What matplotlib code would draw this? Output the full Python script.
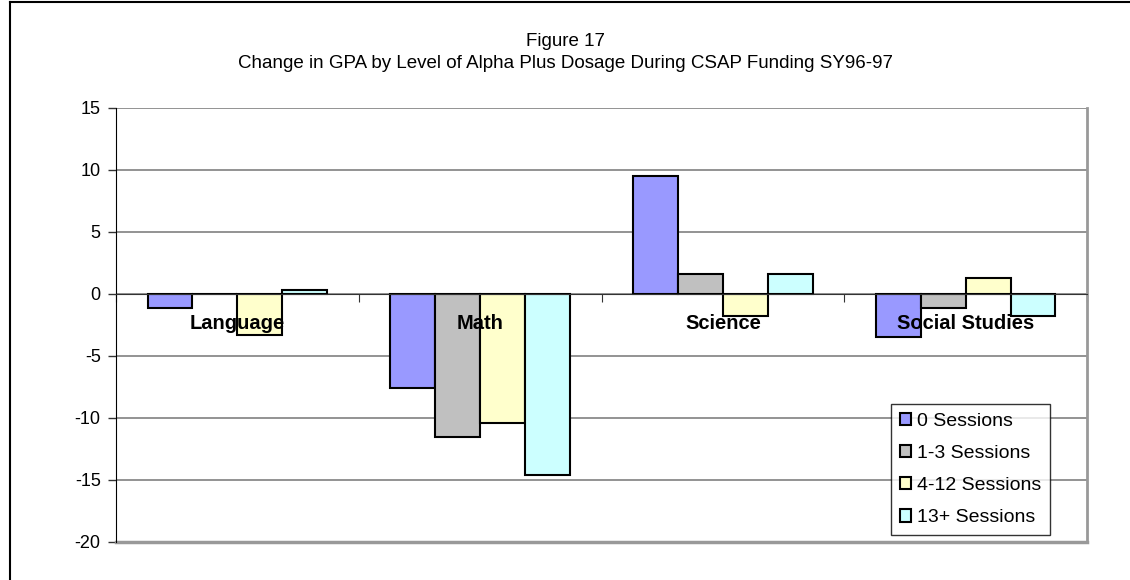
import numpy as np
import matplotlib.pyplot as plt
from matplotlib.ticker import FixedLocator

plt.rcParams['font.family'] = ['Liberation Sans', 'DejaVu Sans']

subjects = ['Language', 'Math', 'Science', 'Social Studies']
sessions = ['0 Sessions', '1-3 Sessions', '4-12 Sessions', '13+ Sessions']
s0 = [-1.1, -7.6, 9.5, -3.5]
s1_3 = [0.0, -11.5, 1.65, -1.1]
s4_12 = [-3.3, -10.4, -1.8, 1.3]
s13 = [0.35, -14.6, 1.65, -1.8]
yticks = [15, 10, 5, 0, -5, -10, -15, -20]

series = [s0, s1_3, s4_12, s13]
colors = ['#9999FF', '#C0C0C0', '#FFFFCC', '#CCFFFF']

fig = plt.figure(figsize=(11.3, 5.8), dpi=100)
ax = fig.add_axes([116 / 1130, 1 - 542 / 580, 971 / 1130, 434 / 580])

x = np.arange(len(subjects))
w = 0.185
for k, (vals, col, lab) in enumerate(zip(series, colors, sessions)):
    ax.bar(x + (k - 1.5) * w, vals, w, color=col, edgecolor='black',
           linewidth=1.5, label=lab, zorder=3)

ax.set_xlim(-0.5, 3.5)
ax.set_ylim(-20, 15)
ax.set_yticks(yticks)
ax.set_yticklabels([str(t) for t in yticks], fontsize=13)
ax.yaxis.grid(True, color='#808080', linewidth=1.2, zorder=0)
ax.tick_params(axis='y', direction='out', length=6, width=1, pad=5, color='#333333')

# x axis crosses at zero, ticks between categories
ax.spines['bottom'].set_position(('data', 0))
ax.spines['bottom'].set_color('#333333')
ax.spines['bottom'].set_zorder(4)
ax.xaxis.set_major_locator(FixedLocator([-0.5, 0.5, 1.5, 2.5, 3.5]))
ax.set_xticklabels([])
ax.tick_params(axis='x', direction='out', length=6, color='#333333')

# category names sit on top of the bars
for xi, name in zip(x, subjects):
    ax.text(xi, -2.35, name, ha='center', va='center', fontsize=14.5,
            fontweight='bold', zorder=6)

ax.spines['left'].set_color('black')
ax.spines['top'].set_visible(False)
ax.spines['right'].set_color('#999999')
ax.spines['right'].set_linewidth(2)
ax.plot([0, 1], [0, 0], transform=ax.transAxes, color='#999999', lw=2.5, clip_on=False)

leg = ax.legend(loc='lower right', bbox_to_anchor=(1050 / 1130, 1 - 535 / 580),
                bbox_transform=fig.transFigure, fontsize=14, frameon=True,
                fancybox=False, edgecolor='black', handlelength=0.6, handleheight=0.6,
                handletextpad=0.3, labelspacing=0.78, borderpad=0.45, borderaxespad=0)
leg.get_frame().set_linewidth(1)

fig.text(0.5, 1 - 41 / 580, 'Figure 17', ha='center', va='center', fontsize=13.5)
fig.text(0.5, 1 - 64 / 580,
         'Change in GPA by Level of Alpha Plus Dosage During CSAP Funding SY96-97',
         ha='center', va='center', fontsize=13.5)

# outer frame
fig.add_artist(plt.Line2D([10 / 1130, 10 / 1130], [0, 1 - 2 / 580], color='black', lw=1.5))
fig.add_artist(plt.Line2D([10 / 1130, 1], [1 - 2 / 580, 1 - 2 / 580], color='black', lw=1.5))

fig.savefig('out.png', dpi=100)
